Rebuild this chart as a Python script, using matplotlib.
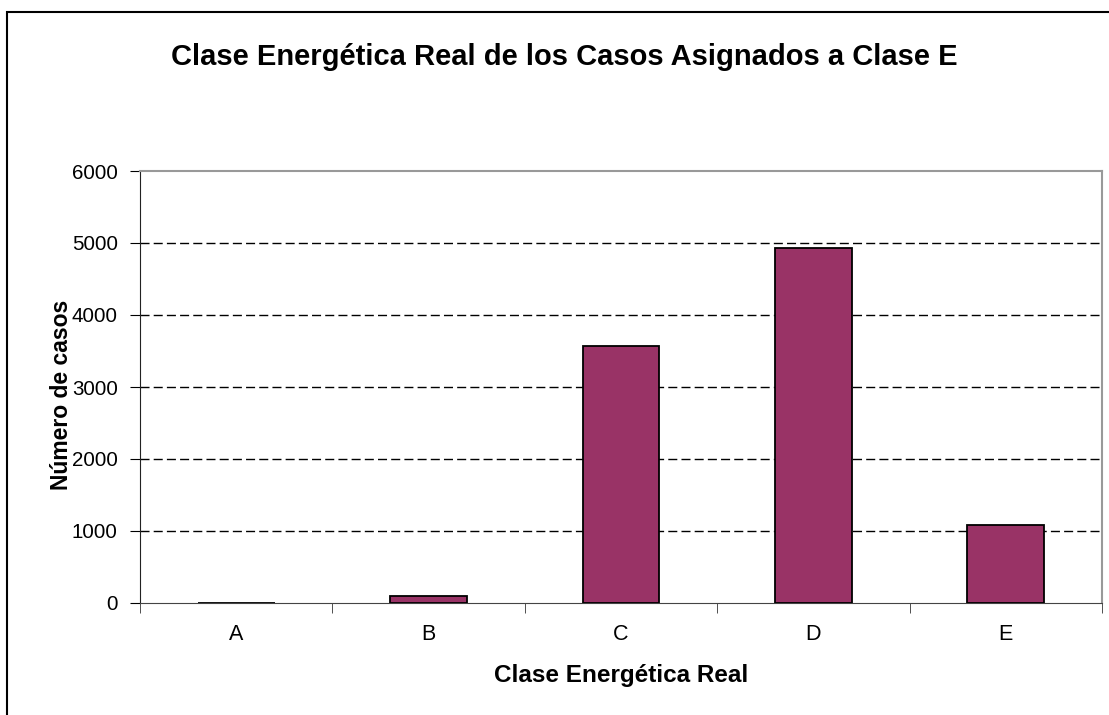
import numpy as np
import matplotlib.pyplot as plt
from matplotlib.patches import Rectangle

plt.rcParams['font.family'] = ['Liberation Sans', 'DejaVu Sans']

clases = ['A', 'B', 'C', 'D', 'E']
casos = [0, 100, 3570, 4930, 1090]
y_ticks = [0, 1000, 2000, 3000, 4000, 5000, 6000]

fig = plt.figure(figsize=(11.09, 7.15), dpi=100)
# marco exterior del grafico (recortado a la derecha y abajo)
fig.patches.append(Rectangle((7 / 1109, -0.05), 1.2, 1 - 12 / 715 + 0.05,
                             transform=fig.transFigure, fill=False,
                             edgecolor='black', linewidth=1.5))

ax = fig.add_axes([140 / 1109, 1 - 603 / 715, 962 / 1109, 432 / 715])
x = np.arange(len(clases))
ax.bar(x, casos, width=0.4, color='#993366', edgecolor='black',
       linewidth=1.3, zorder=3)

ax.set_xlim(-0.5, len(clases) - 0.5)
ax.set_ylim(0, 6000)
ax.set_yticks(y_ticks)
ax.set_xticks(x)
ax.set_xticklabels(clases)
ax.set_xticks(np.arange(len(clases) + 1) - 0.5, minor=True)
ax.tick_params(axis='x', which='major', length=0, pad=15, labelsize=15.5)
ax.tick_params(axis='x', which='minor', length=7, direction='out',
               color='#333333')
ax.tick_params(axis='y', length=7, direction='out', labelsize=14.8, pad=9)

for v in y_ticks[1:-1]:
    ax.axhline(v, color='black', linestyle=(0, (6.5, 3)), linewidth=1, zorder=1)

ax.spines['top'].set_color('#999999')
ax.spines['right'].set_color('#999999')
ax.spines['top'].set_linewidth(1.5)
ax.spines['right'].set_linewidth(1.5)
ax.spines['left'].set_color('#222222')
ax.spines['bottom'].set_color('#444444')

ax.set_xlabel('Clase Energética Real', fontsize=17.5, fontweight='bold')
ax.xaxis.set_label_coords(0.5, -(664 - 603) / 432)
ax.set_ylabel('Número de casos', fontsize=16.5, fontweight='bold', va='center')
ax.yaxis.set_label_coords((62 - 140) / 962, (603 - 395) / 432)
fig.text(564 / 1109, 1 - 57 / 715, 'Clase Energética Real de los Casos Asignados a Clase E',
         ha='center', va='center', fontsize=21, fontweight='bold')

fig.savefig('out.png', dpi=100)
